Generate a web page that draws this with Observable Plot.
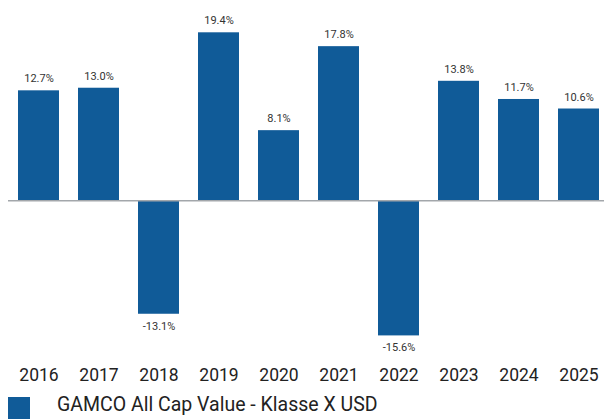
<!DOCTYPE html>
<html>
<head>
<meta charset="utf-8">
<script src="https://cdn.jsdelivr.net/npm/d3@7"></script>
<script src="https://cdn.jsdelivr.net/npm/@observablehq/plot@0.6"></script>
<style>
  body { margin: 0; background: #fff; font-family: Roboto, "Noto Sans", sans-serif; }
  #chart svg { display: block; overflow: visible; }
  .legend { position: relative; height: 29px; }
  .legend .sw { position: absolute; left: 8px; top: 7px; width: 22px; height: 22px; background: #105b98; }
  .legend .lb { position: absolute; left: 57px; top: 3px; font-size: 19.5px; color: #222; white-space: nowrap; }
</style>
</head>
<body>
<div id="chart"></div>
<div class="legend"><div class="sw"></div><div class="lb" id="legendLabel"></div></div>
<script>
const years = ["2016","2017","2018","2019","2020","2021","2022","2023","2024","2025"];
const returns = [12.7, 13.0, -13.1, 19.4, 8.1, 17.8, -15.6, 13.8, 11.7, 10.6];
const seriesName = "GAMCO All Cap Value - Klasse X USD";
const barColor = "#105b98";

const data = years.map((y, i) => ({year: y, value: returns[i]}));
const fmt = v => v.toFixed(1) + "%";

const chart = Plot.plot({
  width: 604,
  height: 390,
  marginTop: 0,
  marginBottom: 30,
  marginLeft: 18,
  marginRight: 5,
  style: {fontFamily: "Roboto, 'Noto Sans', sans-serif", background: "#fff", overflow: "visible"},
  x: {domain: years, paddingInner: 0.317, paddingOuter: 0, label: null},
  y: {domain: [-18.44, 23.13], axis: null},
  marks: [
    Plot.barY(data, {x: "year", y: "value", fill: barColor}),
    Plot.ruleY([0], {stroke: "#a3a7ab", strokeWidth: 1.5, insetLeft: -10, insetRight: -5}),
    Plot.text(data.filter(d => d.value >= 0), {x: "year", y: "value", text: d => fmt(d.value), dy: -12, fontSize: 11, fill: "#333"}),
    Plot.text(data.filter(d => d.value < 0), {x: "year", y: "value", text: d => fmt(d.value), dy: 12, fontSize: 11, fill: "#333"}),
    Plot.axisX({tickSize: 0, tickPadding: 8, fontSize: 17.5, color: "#222", label: null})
  ]
});
document.getElementById("chart").appendChild(chart);
document.getElementById("legendLabel").textContent = seriesName;
</script>
</body>
</html>
